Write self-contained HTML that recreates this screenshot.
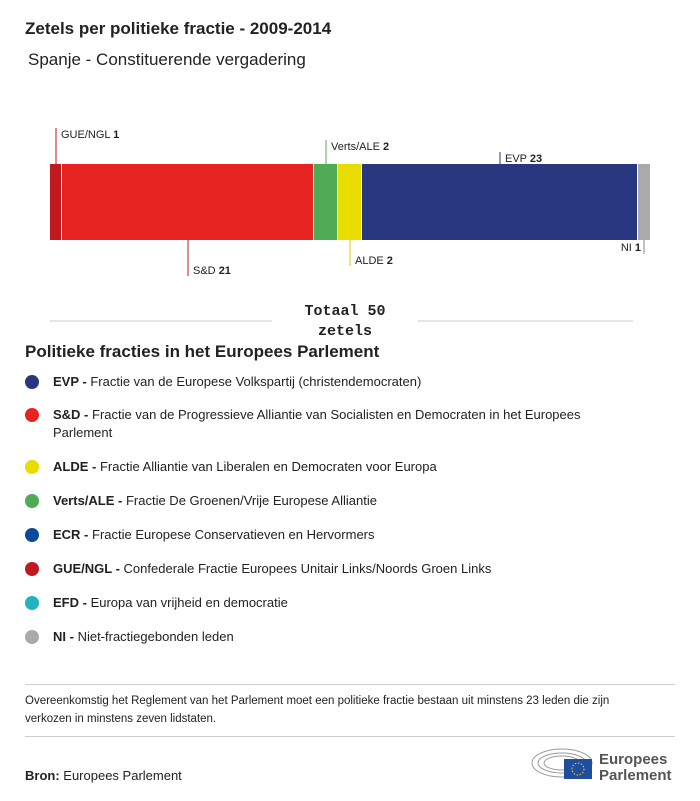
<!DOCTYPE html>
<html><head><meta charset="utf-8"><style>
body{margin:0;width:700px;height:801px;background:#fff;font-family:"Liberation Sans",sans-serif;color:#222;position:relative;overflow:hidden}
.a{position:absolute;white-space:nowrap}
.leg{position:absolute;left:53px;font-size:13px;line-height:18px;width:565px;white-space:normal}
.dot{position:absolute;left:25px;width:14px;height:14px;border-radius:50%}
</style></head><body>
<div class="a" style="left:25px;top:19px;font-size:17px;font-weight:bold">Zetels per politieke fractie - 2009-2014</div>
<div class="a" style="left:28px;top:50px;font-size:17px">Spanje - Constituerende vergadering</div>
<svg class="a" style="left:0;top:0" width="700" height="345" id="ch"></svg>
<div class="a" style="left:295px;top:302px;width:100px;text-align:center;font-family:'Liberation Mono',monospace;font-weight:bold;font-size:15px;line-height:20px;white-space:normal">Totaal 50 zetels</div>
<div class="a" style="left:25px;top:342px;font-size:17px;font-weight:bold">Politieke fracties in het Europees Parlement</div>
<div id="legend"></div>
<div class="a" style="left:25px;top:684px;width:650px;height:1px;background:#ccc"></div>
<div class="a" style="left:25px;top:692px;width:620px;font-size:11.5px;line-height:18px;white-space:normal">Overeenkomstig het Reglement van het Parlement moet een politieke fractie bestaan uit minstens 23 leden die zijn verkozen in minstens zeven lidstaten.</div>
<div class="a" style="left:25px;top:736px;width:650px;height:1px;background:#ccc"></div>
<div class="a" style="left:25px;top:768px;font-size:13px"><b>Bron:</b> Europees Parlement</div>
<svg class="a" style="left:530px;top:745px" width="150" height="40">
<g fill="none" stroke="#999" stroke-width="1"><ellipse cx="32" cy="18" rx="30" ry="14"/><ellipse cx="32" cy="18" rx="24" ry="10"/><ellipse cx="32" cy="18" rx="18" ry="7"/></g>
<rect x="34" y="14" width="28" height="20" fill="#1f4ea1"/><circle cx="48" cy="24" r="6" fill="none" stroke="#ffd200" stroke-dasharray="1.5 1.6"/>
<text x="69" y="19" font-size="15" font-weight="bold" fill="#555" font-family="Liberation Sans">Europees</text>
<text x="69" y="35" font-size="15" font-weight="bold" fill="#555" font-family="Liberation Sans">Parlement</text>
</svg>
<script>
const groups=["GUE/NGL","S&D","Verts/ALE","ALDE","EVP","NI"];
const seats=[1,21,2,2,23,1];
const colors=["#c0191f","#e52421","#4faa55","#e8dc00","#283780","#aaaaaa"];
const legCodes=["EVP","S&D","ALDE","Verts/ALE","ECR","GUE/NGL","EFD","NI"];
const legNames=["Fractie van de Europese Volkspartij (christendemocraten)","Fractie van de Progressieve Alliantie van Socialisten en Democraten in het Europees Parlement","Fractie Alliantie van Liberalen en Democraten voor Europa","Fractie De Groenen/Vrije Europese Alliantie","Fractie Europese Conservatieven en Hervormers","Confederale Fractie Europees Unitair Links/Noords Groen Links","Europa van vrijheid en democratie","Niet-fractiegebonden leden"];
const legColors=["#283780","#e52421","#e8dc00","#4faa55","#0a4a9b","#c0191f","#22b3c2","#aaaaaa"];
const ns="http://www.w3.org/2000/svg",svg=document.getElementById('ch');
const X0=50,W=600,Y0=164,H=76,total=seats.reduce((a,b)=>a+b,0);
const x=v=>X0+v/total*W;
const lay=[[-1,36,'s'],[1,36,'s'],[-1,24,'s'],[1,26,'s'],[-1,12,'s'],[1,14,'e']];
const lineCol=["#c0191f","#c0191f","#4faa55","#d8cc00","#283780","#888"];
let cum=0;
seats.forEach((s,i)=>{
 const r=document.createElementNS(ns,'rect');
 r.setAttribute('x',x(cum));r.setAttribute('y',Y0);r.setAttribute('width',x(cum+s)-x(cum)-(i<seats.length-1?1:0));r.setAttribute('height',H);r.setAttribute('fill',colors[i]);
 
 
 svg.appendChild(r);
 const cx=(x(cum)+x(cum+s))/2, L=lay[i];
 const y1=L[0]<0?Y0:Y0+H, y2=y1+L[0]*L[1];
 const ln=document.createElementNS(ns,'line');
 ln.setAttribute('x1',cx);ln.setAttribute('x2',cx);ln.setAttribute('y1',y1);ln.setAttribute('y2',y2);ln.setAttribute('stroke',lineCol[i]);
 
 
 svg.appendChild(ln);
 const t=document.createElementNS(ns,'text');
 t.setAttribute('x',L[2]=='e'?cx-3:cx+5);t.setAttribute('y',L[0]<0?y2+10:y2-2);
 if(i==5)t.setAttribute('y',y1+11);
 t.setAttribute('text-anchor',L[2]=='e'?'end':'start');t.setAttribute('font-size','11');t.setAttribute('font-family','Liberation Sans');t.setAttribute('fill','#222');
 t.innerHTML=groups[i].replace('&','&amp;')+' <tspan font-weight="bold">'+s+'</tspan>';
 
 
 svg.appendChild(t);
 cum+=s;
});
[[50,272],[418,633]].forEach(p=>{const l=document.createElementNS(ns,'line');l.setAttribute('x1',p[0]);l.setAttribute('x2',p[1]);l.setAttribute('y1',321);l.setAttribute('y2',321);l.setAttribute('stroke','#ccc');


svg.appendChild(l);});
const lg=document.getElementById('legend');
const tops=[373,406,458,492,526,560,594,628];
legCodes.forEach((c,i)=>{
 const d=document.createElement('div');d.className='dot';d.style.top=(tops[i]+2)+'px';d.style.background=legColors[i];
 
 
 lg.appendChild(d);
 const t=document.createElement('div');t.className='leg';t.style.top=tops[i]+'px';
 t.innerHTML='<b>'+c.replace('&','&amp;')+' - </b>'+legNames[i];
 
 
 lg.appendChild(t);
});
</script>
</body></html>
